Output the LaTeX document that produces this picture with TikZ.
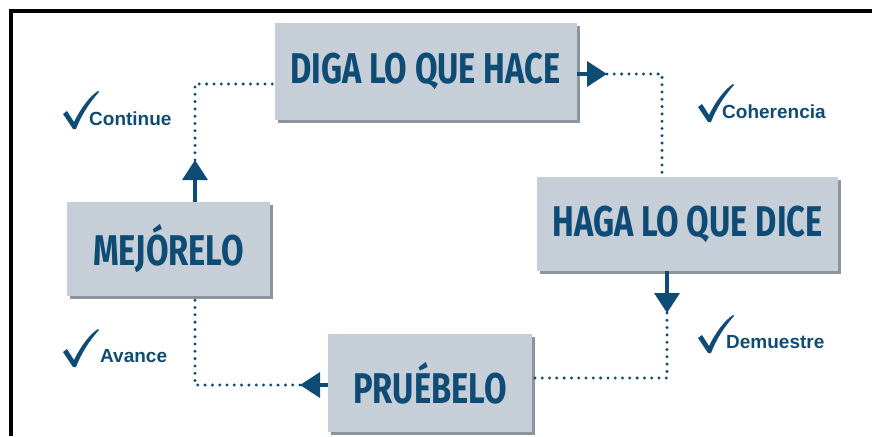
\documentclass[tikz,border=0pt]{standalone}
\usepackage{fontspec}
\usepackage{xcolor}
\usepackage{tikz}
\usetikzlibrary{arrows.meta, shadows, positioning}
\setmainfont{Liberation Sans}
\newfontfamily\boxfont{Fira Sans}[FakeStretch=0.76]
\definecolor{navy}{HTML}{0F4C75}
\definecolor{boxgray}{HTML}{C6CED8}
\definecolor{shadowgray}{HTML}{8C959E}

\begin{document}
\begin{tikzpicture}[
    x=1pt, y=-1pt,
    stage/.style={rectangle, fill=boxgray, inner sep=0pt, text=navy, font=\boxfont\bfseries\fontsize{43}{43}\selectfont, drop shadow={shadow xshift=3pt, shadow yshift=-3pt, fill=shadowgray, opacity=1}},
    flow/.style={-{Triangle[length=20pt, width=25pt]}, line width=3.5pt, navy},
    dotline/.style={navy, line width=3.3pt, line cap=round, dash pattern=on 0pt off 7.3pt},
    note/.style={anchor=base west, inner sep=0pt, text=navy, font=\bfseries\fontsize{19}{19}\selectfont},
    checkmark/.pic={\fill[navy] (-12,-14) -- (-8,-17) -- (-1,-6) .. controls (6,-20) and (14,-31) .. (23,-37) -- (24,-36) .. controls (14,-25) and (6,-12) .. (1,1) -- (-2,1) -- cycle;}
]
\useasboundingbox (0,0) rectangle (872,436);

% frame
\draw[line width=4pt, line join=miter] (11,436) -- (11,11.5) -- (872,11.5);

% the four stages
\node[stage, minimum width=302pt, minimum height=97pt] (diga) at (425.5,71.5) {DIGA LO QUE HACE};
\node[stage, minimum width=301pt, minimum height=94pt] (haga) at (687.5,224) {HAGA LO QUE DICE};
\node[stage, minimum width=204pt, minimum height=98pt] (prueba) at (430,383) {PRUÉBELO};
\node[stage, minimum width=203pt, minimum height=94pt] (mejora) at (168.5,249) {MEJÓRELO};

% corners of the loop
\coordinate (a1) at (607,74);
\coordinate (a2) at (662,74);
\coordinate (b1) at (667,313);
\coordinate (b2) at (667,378);
\coordinate (c1) at (300,385);
\coordinate (c2) at (195,385);
\coordinate (d1) at (195,160);
\coordinate (d2) at (195,84);

\draw[flow] (diga.east |- a1) -- (a1);
\draw[dotline] (a1) -| (haga.north -| a2);

\draw[flow] (haga.south -| b1) -- (b1);
\draw[dotline] (b1) -- (b2) -- (prueba.east |- b2);

\draw[flow] (prueba.west |- c1) -- (c1);
\draw[dotline] (c1) -- (c2) -- (mejora.south -| c2);

\draw[flow] (mejora.north -| d1) -- (d1);
\draw[dotline] (d1) -- (d2) -- (diga.west |- d2);

% labels
\pic at (75,128) {checkmark};
\node[note] (continue) at (89,125) {Continue};
\pic at (710,121) {checkmark};
\node[note] (coherencia) at (722,118) {Coherencia};
\pic at (710,352) {checkmark};
\node[note] (demuestre) at (726,348) {Demuestre};
\pic at (75,366) {checkmark};
\node[note] (avance) at (100,362) {Avance};
\end{tikzpicture}
\end{document}
